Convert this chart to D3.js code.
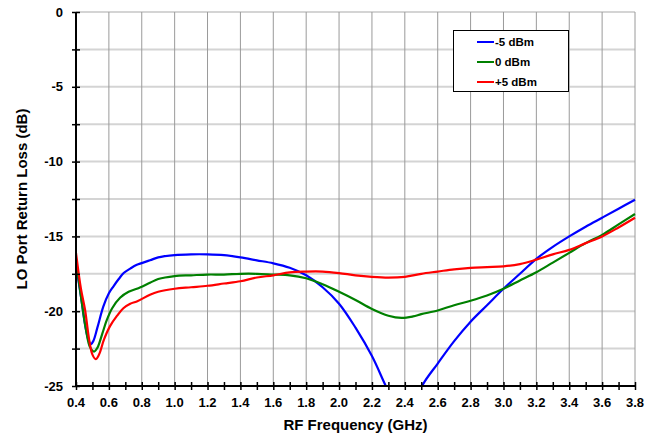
<!DOCTYPE html>
<html><head><meta charset="utf-8">
<script src="https://cdn.jsdelivr.net/npm/d3@7"></script>
<style>
body{margin:0;background:#fff;}
text{font-family:"Liberation Sans",Arial,sans-serif;font-weight:bold;}
</style></head>
<body><svg id="c" width="662" height="441"></svg>
<script>
const freqBlue = [0.4,0.43,0.455,0.475,0.49,0.505,0.53,0.566,0.6,0.627,0.66,0.69,0.73,0.77,0.85,0.9,1.0,1.1,1.2,1.3,1.4,1.5,1.6,1.7,1.8,1.9,2.0,2.1,2.2,2.28,2.34,2.4,2.46,2.51,2.6,2.7,2.8,2.9,3.0,3.1,3.2,3.3,3.4,3.5,3.6,3.7,3.8];
const lossBlue = [-16.9,-19.0,-20.9,-21.9,-22.2,-22.0,-21.1,-19.7,-18.8,-18.35,-17.85,-17.45,-17.15,-16.9,-16.6,-16.4,-16.25,-16.2,-16.2,-16.25,-16.4,-16.6,-16.8,-17.1,-17.6,-18.4,-19.5,-21.1,-23.0,-24.9,-26.3,-27.0,-26.3,-24.9,-23.5,-22.0,-20.7,-19.6,-18.5,-17.5,-16.5,-15.7,-15.0,-14.35,-13.75,-13.15,-12.55];
const freqGreen = [0.4,0.43,0.46,0.485,0.51,0.53,0.56,0.587,0.62,0.668,0.72,0.77,0.85,0.9,1.0,1.1,1.2,1.3,1.4,1.5,1.6,1.7,1.8,1.9,2.0,2.1,2.2,2.3,2.38,2.45,2.5,2.6,2.7,2.8,2.9,3.0,3.1,3.2,3.3,3.4,3.5,3.6,3.7,3.8];
const lossGreen = [-16.6,-19.0,-21.2,-22.4,-22.7,-22.45,-21.5,-20.6,-19.8,-19.1,-18.7,-18.5,-18.1,-17.85,-17.65,-17.6,-17.55,-17.55,-17.5,-17.5,-17.55,-17.6,-17.8,-18.2,-18.7,-19.25,-19.85,-20.3,-20.45,-20.35,-20.2,-19.95,-19.6,-19.3,-18.95,-18.5,-17.95,-17.4,-16.75,-16.1,-15.45,-14.9,-14.2,-13.5];
const freqRed = [0.4,0.43,0.455,0.48,0.5,0.52,0.54,0.57,0.607,0.65,0.688,0.73,0.77,0.85,0.9,1.0,1.1,1.2,1.3,1.4,1.5,1.6,1.7,1.8,1.9,2.0,2.1,2.2,2.3,2.4,2.5,2.6,2.7,2.8,2.9,3.0,3.1,3.2,3.3,3.4,3.5,3.6,3.7,3.8];
const lossRed = [-16.1,-18.5,-19.9,-21.9,-22.9,-23.2,-22.9,-21.9,-21.0,-20.3,-19.8,-19.5,-19.35,-18.9,-18.7,-18.5,-18.4,-18.3,-18.15,-18.0,-17.75,-17.6,-17.4,-17.35,-17.35,-17.45,-17.6,-17.7,-17.75,-17.7,-17.5,-17.35,-17.2,-17.1,-17.05,-17.0,-16.85,-16.55,-16.2,-15.9,-15.45,-15.0,-14.4,-13.75];
const seriesNames = ["-5 dBm","0 dBm","+5 dBm"];
const seriesColors = ["#0000ff","#008000","#ff0000"];
const xTicks = [0.4,0.6,0.8,1.0,1.2,1.4,1.6,1.8,2.0,2.2,2.4,2.6,2.8,3.0,3.2,3.4,3.6,3.8];
const yTicks = [0,-5,-10,-15,-20,-25];

const svg = d3.select("#c");
const L=76,R=635,T=12,B=386;
const x = d3.scaleLinear().domain([0.4,3.8]).range([L,R]);
const y = d3.scaleLinear().domain([0,-25]).range([T,B]);

const hGrid = d3.range(0,-25.01,-2.5);
svg.append("g").selectAll("line").data(hGrid).join("line")
  .attr("x1",L).attr("x2",R).attr("y1",d=>y(d)).attr("y2",d=>y(d))
  .attr("stroke","#d4d4d4").attr("stroke-width",2);
svg.append("g").selectAll("line").data(xTicks.slice(1)).join("line")
  .attr("x1",d=>x(d)).attr("x2",d=>x(d)).attr("y1",T).attr("y2",B)
  .attr("stroke","#9a9a9a").attr("stroke-width",1);

svg.append("clipPath").attr("id","clip").append("rect")
  .attr("x",L).attr("y",T-2).attr("width",R-L+2).attr("height",B-T+1);
const line = d3.line().x(d=>x(d[0])).y(d=>y(d[1])).curve(d3.curveCatmullRom.alpha(0.5));
const series = [d3.zip(freqBlue,lossBlue), d3.zip(freqGreen,lossGreen), d3.zip(freqRed,lossRed)];
const cg = svg.append("g").attr("clip-path","url(#clip)");
series.forEach((s,i)=>{
  cg.append("path").datum(s).attr("d",line).attr("fill","none")
    .attr("stroke",seriesColors[i]).attr("stroke-width",2.2).attr("stroke-linejoin","round");
});

const xMinor = d3.range(0.4,3.801,0.1);
const xAxis = d3.axisBottom(x).tickValues(xMinor).tickSize(4).tickFormat("");
const xg = svg.append("g").attr("transform",`translate(0,${B-4})`).call(xAxis);
xg.select(".domain").remove();
xg.selectAll(".tick line").attr("y2",8).attr("stroke","#000").attr("stroke-width",1.5);
svg.append("line").attr("x1",L).attr("x2",R).attr("y1",B).attr("y2",B).attr("stroke","#000").attr("stroke-width",2);
svg.append("g").selectAll("text").data(xTicks).join("text")
  .attr("x",d=>x(d)).attr("y",B+21).attr("text-anchor","middle").attr("font-size",13)
  .text(d=>d.toFixed(1));

const yg = svg.append("g").attr("transform",`translate(${L-4},0)`).call(d3.axisRight(y).tickValues(hGrid).tickSize(8).tickFormat(""));
yg.select(".domain").remove();
yg.selectAll(".tick line").attr("stroke","#000").attr("stroke-width",1.5);
svg.append("line").attr("x1",L).attr("x2",L).attr("y1",T).attr("y2",B).attr("stroke","#000").attr("stroke-width",2);
svg.append("g").selectAll("text").data(yTicks).join("text")
  .attr("x",63).attr("y",d=>y(d)+4.5).attr("text-anchor","end").attr("font-size",13)
  .text(d=>d);

svg.append("text").attr("x",(L+R)/2).attr("y",430).attr("text-anchor","middle").attr("font-size",15).text("RF Frequency (GHz)");
svg.append("text").attr("transform",`translate(27,${(T+B)/2}) rotate(-90)`).attr("text-anchor","middle").attr("font-size",15).text("LO Port Return Loss (dB)");

const lg = svg.append("g");
lg.append("rect").attr("x",453.5).attr("y",30.5).attr("width",115).attr("height",61).attr("fill","#fff").attr("stroke","#000").attr("stroke-width",1);
seriesNames.forEach((n,i)=>{
  const yy = 42 + i*20;
  lg.append("line").attr("x1",477).attr("x2",494).attr("y1",yy).attr("y2",yy).attr("stroke",seriesColors[i]).attr("stroke-width",2);
  lg.append("text").attr("x",495).attr("y",yy+4).attr("font-size",11.5).text(n);
});
</script></body></html>
